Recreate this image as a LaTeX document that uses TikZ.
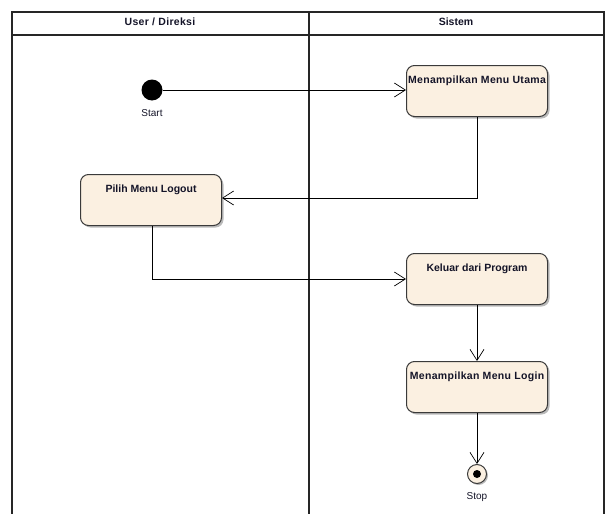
\documentclass[tikz,border=0pt]{standalone}
\usepackage{fontspec}
\setmainfont{Liberation Sans}
\usetikzlibrary{arrows.meta,shadows}
\definecolor{actfill}{HTML}{FBF0E1}
\definecolor{actline}{HTML}{3A3A3A}
\definecolor{txt}{HTML}{141428}
\tikzset{
  act/.style={draw=actline, line width=1pt, fill=actfill, rounded corners=8pt,
    minimum width=141pt, minimum height=51pt, anchor=north west,
    drop shadow={shadow xshift=2pt, shadow yshift=-2pt, fill=black!45, opacity=0.6}},
  acttext/.style={font=\bfseries\fontsize{10.5}{12}\selectfont, text=txt, inner sep=0pt},
  spaced/.style={font=\bfseries\fontsize{10.5}{12}\selectfont\addfontfeature{LetterSpace=3}},
  flow/.style={draw=black, line width=0.7pt, -{Straight Barb[length=11pt,width=14pt,line width=0.7pt]}},
  lane/.style={draw=black!85, line width=1.2pt},
  lbl/.style={font=\fontsize{10}{11}\selectfont, text=txt}
}
\begin{document}
\begin{tikzpicture}[x=1pt,y=-1pt]
\useasboundingbox (0,0) rectangle (608,514);
% swimlanes
\draw[lane] (12,514) -- (12,12) -- (604,12) -- (604,514);
\draw[lane] (12,35) -- (604,35);
\draw[lane] (309,12) -- (309,514);
\node[acttext, spaced] (h1) at (160,22) {User / Direksi};
\node[acttext] (h2) at (456,22) {Sistem};
% nodes
\node[circle, fill=black, minimum size=21pt, inner sep=0pt] (start) at (152,90) {};
\node[lbl] (startl) at (152,113) {Start};
\node[act] (utama) at (406,65) {};
\node[acttext, spaced, anchor=north] (utamat) at (utama.north) [yshift=-10.5pt] {Menampilkan Menu Utama};
\node[act] (logout) at (80,174) {};
\node[acttext, anchor=north] (logoutt) at (logout.north) [yshift=-10.5pt] {Pilih Menu Logout};
\node[act] (keluar) at (406,253) {};
\node[acttext, anchor=north] (keluart) at (keluar.north) [yshift=-10.5pt] {Keluar dari Program};
\node[act] (login) at (406,361) {};
\node[acttext, spaced, anchor=north] (logint) at (login.north) [yshift=-10.5pt] {Menampilkan Menu Login};
\node[circle, draw=actline, line width=1pt, fill=actfill, minimum size=19pt, inner sep=0pt,
  drop shadow={shadow xshift=1.5pt, shadow yshift=-1.5pt, fill=black!45, opacity=0.6}] (stop) at (477,474) {};
\node[circle, fill=black, minimum size=8pt, inner sep=0pt] (stopdot) at (stop.center) {};
\node[lbl] (stopl) at (477,497) {Stop};
% connectors
\draw[flow] (start) -- (utama.west |- start);
\draw[flow] (utama.south -| 477,0) |- (logout.east |- 0,198);
\draw[flow] (logout.south -| 152,0) |- (keluar.west |- 0,279);
\draw[flow] (keluar.south -| 477,0) -- (login.north -| 477,0);
\draw[flow] (login.south -| 477,0) -- (stop.north);
\end{tikzpicture}
\end{document}
